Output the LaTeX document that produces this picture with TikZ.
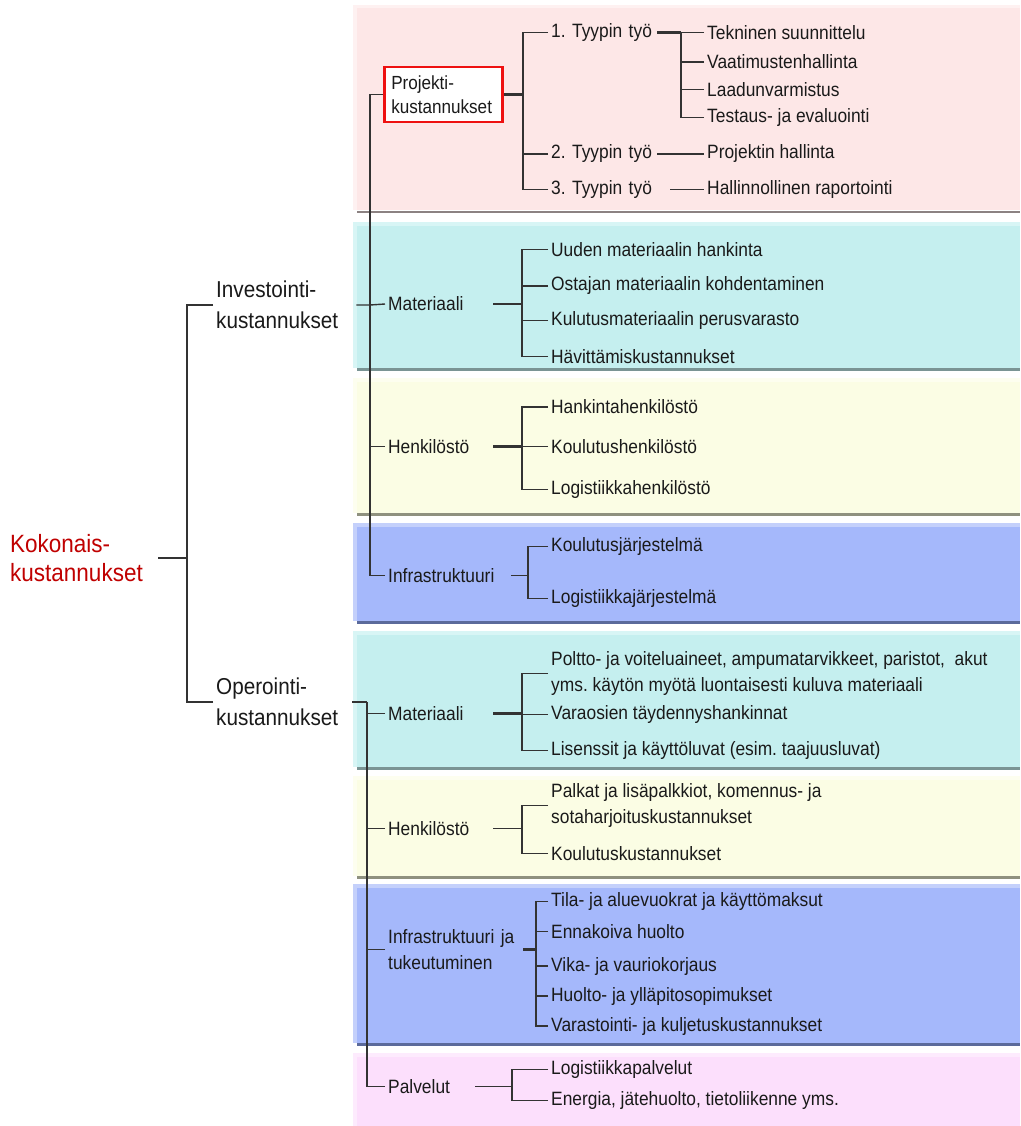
\documentclass[tikz,border=0pt]{standalone}
\usepackage{fontspec}
\setmainfont{Liberation Sans}[FakeStretch=0.9]
\frenchspacing
\definecolor{ink}{HTML}{1A1A1A}
\definecolor{linegray}{HTML}{333333}
\definecolor{totalred}{HTML}{C00000}
\definecolor{boxred}{HTML}{EE1111}
\definecolor{pinkmain}{HTML}{FDE7E7}
\definecolor{pinkedge}{HTML}{FEF1F1}
\definecolor{pinkline}{HTML}{8C8282}
\definecolor{cyanmain}{HTML}{C5EFEF}
\definecolor{cyanedge}{HTML}{D8F5F5}
\definecolor{cyanshadow}{HTML}{7A9494}
\definecolor{yelmain}{HTML}{FBFDE4}
\definecolor{yeledge}{HTML}{FDFEEF}
\definecolor{yelshadow}{HTML}{8F917F}
\definecolor{bluemain}{HTML}{A5B8FB}
\definecolor{blueedge}{HTML}{C4D0FB}
\definecolor{blueshadow}{HTML}{5B6A9B}
\definecolor{magmain}{HTML}{FCDFFC}
\definecolor{magedge}{HTML}{FDEBFD}
\newcommand\lfnt{\fontsize{19.3}{26}\selectfont}
\newcommand\bigfnt{\fontsize{23}{31}\selectfont}
\newcommand\redfnt{\fontsize{25}{29}\selectfont}
% one coloured band: top, bottom, main fill, edge fill, shadow colour
\newcommand\costband[5]{%
  \fill[#4] (353,#1) rectangle (1020,#2);
  \fill[#3] (357,#1+4) rectangle (1020,#2);
  \fill[#5] (357,#2) rectangle (1020,#2+3);}
\begin{document}
\begin{tikzpicture}[x=1pt,y=-1pt,
  conn/.style={draw=linegray,line width=1.4pt},
  boldconn/.style={draw=linegray,line width=2.6pt},
  txt/.style={anchor=west,inner xsep=3pt,inner ysep=0pt,text=ink,font=\lfnt,align=left},
  mid/.style={txt,text width=#1},
  head/.style={anchor=west,inner xsep=3pt,inner ysep=0pt,text=ink,font=\bigfnt,align=left,text width=#1},
  total/.style={anchor=west,inner xsep=3pt,inner ysep=0pt,text=totalred,font=\redfnt,align=left,text width=#1},
  projbox/.style={anchor=west,draw=boxred,line width=2.5pt,fill=white,text=ink,font=\fontsize{19}{24}\selectfont,
    align=left,text width=104pt,inner xsep=7pt,minimum width=118pt,minimum height=55pt}]
\useasboundingbox (0,0) rectangle (1020,1126);
\fill[white] (0,0) rectangle (1020,1126);

% background bands
\fill[pinkedge] (353,5) rectangle (1020,210);
\fill[pinkmain] (357,8) rectangle (1020,210);
\fill[pinkline] (357,210.5) rectangle (1020,212.5);
\costband{222}{368}{cyanmain}{cyanedge}{cyanshadow}
\costband{378}{513}{yelmain}{yeledge}{yelshadow}
\costband{523}{620.5}{bluemain}{blueedge}{blueshadow}
\costband{631}{766.5}{cyanmain}{cyanedge}{cyanshadow}
\costband{776}{875.5}{yelmain}{yeledge}{yelshadow}
\costband{884}{1043}{bluemain}{blueedge}{blueshadow}
\fill[magedge] (353,1053) rectangle (1020,1126);
\fill[magmain] (357,1057) rectangle (1020,1126);

% root and main branches
\node[total=145pt] (kok) at (7,558) {Kokonais-\\kustannukset};
\node[head=137pt] (inv) at (213,305) {Investointi-\\kustannukset};
\node[head=133pt] (ope) at (213,702) {Operointi-\\kustannukset};

% investment costs
\node[projbox] (proj) at (383,94.5) {Projekti-\\kustannukset};
\node[mid=103pt] (t1) at (548,32.5) {1. Tyypin työ};
\node[mid=103pt] (t2) at (548,154) {2. Tyypin työ};
\node[mid=116pt] (t3) at (548,189.5) {3. Tyypin työ};
\node[txt] (e1) at (704,32.5) {Tekninen suunnittelu};
\node[txt] (e2) at (704,62) {Vaatimustenhallinta};
\node[txt] (e3) at (704,89.5) {Laadunvarmistus};
\node[txt] (e4) at (704,117.5) {Testaus- ja evaluointi};
\node[txt] (p2) at (704,154) {Projektin hallinta};
\node[txt] (p3) at (704,189.5) {Hallinnollinen raportointi};

\node[mid=102pt] (m1) at (385,304) {Materiaali};
\node[txt] (a1) at (548,249.5) {Uuden materiaalin hankinta};
\node[txt] (a2) at (548,286) {Ostajan materiaalin kohdentaminen};
\node[txt] (a3) at (548,320.5) {Kulutusmateriaalin perusvarasto};
\node[txt] (a4) at (548,356.5) {Hävittämiskustannukset};

\node[mid=102pt] (h1) at (385,446.5) {Henkilöstö};
\node[txt] (b1) at (548,407) {Hankintahenkilöstö};
\node[txt] (b2) at (548,446.5) {Koulutushenkilöstö};
\node[txt] (b3) at (548,489.5) {Logistiikkahenkilöstö};

\node[mid=120pt] (i1) at (385,575.5) {Infrastruktuuri};
\node[txt] (c1) at (548,546.5) {Koulutusjärjestelmä};
\node[txt] (c2) at (548,598.5) {Logistiikkajärjestelmä};

% operating costs
\node[mid=102pt] (m2) at (385,713.5) {Materiaali};
\node[txt] (d1) at (548,673.5) {Poltto- ja voiteluaineet, ampumatarvikkeet, paristot,~ akut\\yms. käytön myötä luontaisesti kuluva materiaali};
\node[txt] (d2) at (548,714.5) {Varaosien täydennyshankinnat};
\node[txt] (d3) at (548,750.5) {Lisenssit ja käyttöluvat (esim. taajuusluvat)};

\node[mid=102pt] (h2) at (385,828.5) {Henkilöstö};
\node[txt] (f1) at (548,805.5) {Palkat ja lisäpalkkiot, komennus- ja\\sotaharjoituskustannukset};
\node[txt] (f2) at (548,853.5) {Koulutuskustannukset};

\node[mid=132pt] (i2) at (385,949.5) {Infrastruktuuri ja\\tukeutuminen};
\node[txt] (g1) at (548,901.5) {Tila- ja aluevuokrat ja käyttömaksut};
\node[txt] (g2) at (548,931.5) {Ennakoiva huolto};
\node[txt] (g3) at (548,966) {Vika- ja vauriokorjaus};
\node[txt] (g4) at (548,996) {Huolto- ja ylläpitosopimukset};
\node[txt] (g5) at (548,1026) {Varastointi- ja kuljetuskustannukset};

\node[mid=84pt] (s2) at (385,1086.5) {Palvelut};
\node[txt] (k1) at (548,1069.5) {Logistiikkapalvelut};
\node[txt] (k2) at (548,1100.5) {Energia, jätehuolto, tietoliikenne yms.};

% junction points
\coordinate (jR) at (187,558);
\coordinate (bI) at (370,305);
\coordinate (bO) at (367,702);
\coordinate (jP) at (523,94.5);
\coordinate (jT) at (681,32.5);
\coordinate (jM1) at (522,304);
\coordinate (jH1) at (522,446.5);
\coordinate (jI1) at (528,575.5);
\coordinate (jM2) at (522,713.5);
\coordinate (jH2) at (522,828.5);
\coordinate (jI2) at (536,949.5);
\coordinate (jS) at (512,1086.5);

% root connectors
\draw[conn] (kok.east) -- (jR);
\draw[conn] (inv.west) -| (jR);
\draw[conn] (ope.west) -| (jR);

% investment bus
\draw[conn] (inv.east) -- (bI) -- (m1.west);
\draw[conn] (proj.west) -| (bI);
\draw[conn] (h1.west) -| (bI);
\draw[conn] (i1.west) -| (bI);

% project costs
\draw[boldconn] (proj.east) -- (jP) -- (jP |- t2.west);
\foreach \n in {t1,t2,t3} \draw[conn] (\n.west) -| (jP);
\draw[boldconn] (t1.east) -- (jT);
\draw[draw=linegray,line width=2.2pt] (jT) -- (jT |- e4.west);
\foreach \n in {e1,e2,e3,e4} \draw[conn] (\n.west) -| (jT);
\draw[conn] (t2.east) -- (p2.west);
\draw[conn] (t3.east) -- (p3.west);

% investment sub-branches
\draw[boldconn] (m1.east) -- (jM1);
\foreach \n in {a1,a2,a3,a4} \draw[conn] (\n.west) -| (jM1);
\draw[boldconn] (h1.east) -- (jH1);
\foreach \n in {b1,b2,b3} \draw[conn] (\n.west) -| (jH1);
\draw[conn] (i1.east) -- (jI1);
\foreach \n in {c1,c2} \draw[conn] (\n.west) -| (jI1);

% operating bus
\draw[boldconn] (ope.east) -- (bO);
\foreach \n in {m2,h2,i2,s2} \draw[conn] (\n.west) -| (bO);

% operating sub-branches
\draw[boldconn] (m2.east) -- (jM2);
\foreach \n in {d1,d2,d3} \draw[conn] (\n.west) -| (jM2);
\draw[conn] (h2.east) -- (jH2);
\foreach \n in {f1,f2} \draw[conn] (\n.west) -| (jH2);
\draw[boldconn] (i2.east) -- (jI2) -- ++(0,14);
\foreach \n in {g1,g2,g3,g4,g5} \draw[conn] (\n.west) -| (jI2);
\draw[conn] (s2.east) -- (jS);
\foreach \n in {k1,k2} \draw[conn] (\n.west) -| (jS);
\end{tikzpicture}
\end{document}
